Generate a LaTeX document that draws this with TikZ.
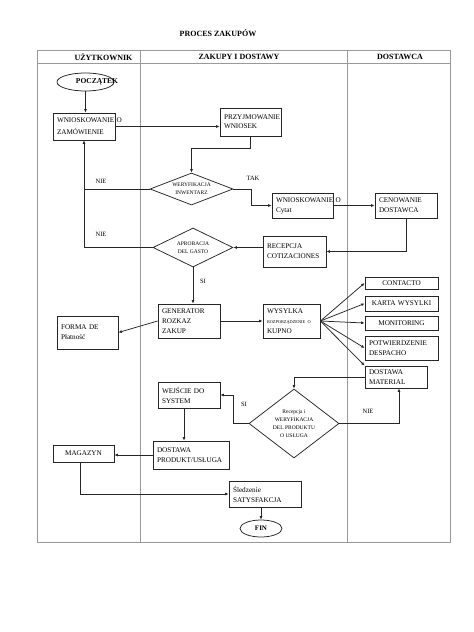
\documentclass[tikz,border=0pt]{standalone}
\usepackage{fontspec}
\setmainfont{Liberation Serif}
\usetikzlibrary{shapes.geometric,arrows.meta}
\begin{document}
\begin{tikzpicture}[x=1pt,y=-1pt,
  ln/.style={draw=black!85, line width=0.75pt},
  arr/.style={ln, -{Latex[length=3.5pt,width=3pt]}},
  bx/.style={draw=black!85, line width=0.75pt, rectangle, inner xsep=4pt, inner ysep=1pt, align=left, font=\fontsize{7.2}{10}\selectfont},
  cbx/.style={bx, align=center},
  dm/.style={draw=black!85, line width=0.75pt, diamond, inner sep=0pt},
  el/.style={draw=black!85, line width=0.75pt, ellipse, inner sep=0pt},
  dtxt/.style={align=center, font=\fontsize{5.5}{8}\selectfont, inner sep=0pt},
  lbl/.style={font=\fontsize{6.5}{8}\selectfont, inner sep=0pt},
  hdr/.style={font=\fontsize{8}{10}\selectfont\bfseries, inner sep=0pt},
  frame/.style={draw=black!40, line width=1pt}]
\useasboundingbox (0,0) rectangle (474,632);
% table frame
\draw[frame] (37.5,50) rectangle (450,542);
\draw[frame] (37.5,63) -- (450,63);
\draw[frame] (140,50) -- (140,542);
\draw[frame] (347,50) -- (347,542);
% headers
\node[hdr] (title) at (218,33) {PROCES ZAKUPÓW};
\node[hdr] (h1) at (103.5,57) {UŻYTKOWNIK};
\node[hdr] (h2) at (239,57) {ZAKUPY I DOSTAWY};
\node[hdr] (h3) at (400,57) {DOSTAWCA};
% nodes
\node[el, minimum width=57, minimum height=18] (start) at (85.5,82) {};
\node[inner sep=0pt, font=\fontsize{7.5}{9}\selectfont\bfseries] (startt) at (97,82) {POCZĄTEK};
\node[bx, minimum width=62, text width=54, minimum height=27, font=\fontsize{7.2}{12}\selectfont] (wz) at (84,126.5) {\mbox{WNIOSKOWANIE O}\\ZAMÓWIENIE};
\node[bx, minimum width=61, text width=53, minimum height=28, font=\fontsize{7.2}{9}\selectfont] (przyj) at (250.5,122) {\mbox{PRZYJMOWANIE}\\WNIOSEK};
\node[dm, minimum width=83, minimum height=32] (weryf) at (191.5,189) {};
\node[dtxt] (weryft) at (191.5,189) {WERYFIKACJA\\INWENTARZ};
\node[bx, minimum width=61, text width=53, minimum height=25] (wcytat) at (302.5,205.5) {\mbox{WNIOSKOWANIE O}\\Cytat};
\node[bx, minimum width=62, text width=54, minimum height=25] (cenow) at (406,205.5) {CENOWANIE\\DOSTAWCA};
\node[bx, minimum width=63, text width=55, minimum height=31] (recep) at (294.5,251.5) {RECEPCJA\\COTIZACIONES};
\node[dm, minimum width=80, minimum height=39] (aprob) at (193,247.5) {};
\node[dtxt] (aprobt) at (193,247.5) {APROBACJA\\DEL GASTO};
\node[bx, minimum width=62, text width=54, minimum height=34] (gener) at (189,321) {GENERATOR\\ROZKAZ\\ZAKUP};
\node[bx, minimum width=61, text width=53, minimum height=33] (forma) at (87.5,332.5) {FORMA DE\\Płatność};
\node[bx, minimum width=57, text width=49, minimum height=34] (wysylka) at (291.5,321) {WYSYLKA\\{\fontsize{4.3}{6}\selectfont\mbox{ROZPORZĄDZENIE O}}\\KUPNO};
\node[cbx, minimum width=73, text width=65, minimum height=12, inner ysep=0pt] (contacto) at (401.5,283) {CONTACTO};
\node[cbx, minimum width=73, text width=65, minimum height=15] (karta) at (401.5,303.5) {KARTA WYSYLKI};
\node[cbx, minimum width=73, text width=65, minimum height=14] (monit) at (401.5,323) {MONITORING};
\node[bx, minimum width=73, text width=65, minimum height=24] (potw) at (401.5,348) {POTWIERDZENIE\\DESPACHO};
\node[bx, minimum width=62, text width=54, minimum height=22] (dmat) at (396,377) {DOSTAWA\\MATERIAL};
\node[dm, minimum width=90, minimum height=69] (recv) at (294,423.5) {};
\node[dtxt] (recvt) at (294,423.5) {Recepcja i\\WERYFIKACJA\\DEL PRODUKTU\\O USŁUGA};
\node[bx, minimum width=62, text width=54, minimum height=26] (wejscie) at (189,395) {WEJŚCIE DO\\SYSTEM};
\node[bx, minimum width=76, text width=68, minimum height=28] (dprod) at (191,455) {DOSTAWA\\PRODUKT/USŁUGA};
\node[cbx, minimum width=61, text width=53, minimum height=17] (magazyn) at (83.5,453.5) {MAGAZYN};
\node[bx, minimum width=72, text width=64, minimum height=26] (sled) at (265,494) {Śledzenie\\SATYSFAKCJA};
\node[el, minimum width=42, minimum height=17, font=\fontsize{7}{8}\selectfont\bfseries] (fin) at (261,528.5) {FIN};
% connectors
\draw[arr] (start.south) -- (start.south |- wz.north);
\draw[arr] (wz.east) -- (wz.east -| przyj.west);
\draw[arr] (przyj.south) -- ++(0,12) -| (weryf.north);
\draw[arr] (weryf.west) -| (wz.south);
\draw[ln] (aprob.west) -| (weryf.west -| wz.south);
\draw[arr] (weryf.east) -- ++(18,0) |- (wcytat.west);
\draw[arr] (wcytat.east) -- (cenow.west);
\draw[arr] (cenow.south) |- (recep.east);
\draw[arr] (recep.west |- aprob.east) -- (aprob.east);
\draw[arr] (aprob.south) -- (aprob.south |- gener.north);
\draw[arr] (gener.west) -- (forma.east);
\draw[arr] (gener.east) -- (wysylka.west);
\coordinate (fan) at (wysylka.east);
\foreach \t in {contacto.west,karta.west,monit.west,potw.west,dmat.north west}
  \draw[arr] (fan) -- (\t);
\draw[arr] (dmat.west) -| (recv.north);
\draw[arr] (recv.east) -| ([xshift=3pt]dmat.south);
\draw[arr] (recv.west) -- ++(-15,0) |- (wejscie.east);
\draw[arr] ([xshift=-5pt]wejscie.south) -- ([xshift=-5pt]wejscie.south |- dprod.north);
\draw[arr] (dprod.west) -- (dprod.west -| magazyn.east);
\draw[arr] ([xshift=-3.5pt]magazyn.south) |- (sled.west);
\draw[arr] (sled.south -| fin.north) -- (fin.north);
% labels
\node[lbl] (nie1) at (101,181) {NIE};
\node[lbl] (tak) at (253,178) {TAK};
\node[lbl] (nie2) at (101,234) {NIE};
\node[lbl] (si1) at (203,281) {SI};
\node[lbl] (si2) at (244,404) {SI};
\node[lbl] (nie3) at (368,411) {NIE};
\end{tikzpicture}
\end{document}
